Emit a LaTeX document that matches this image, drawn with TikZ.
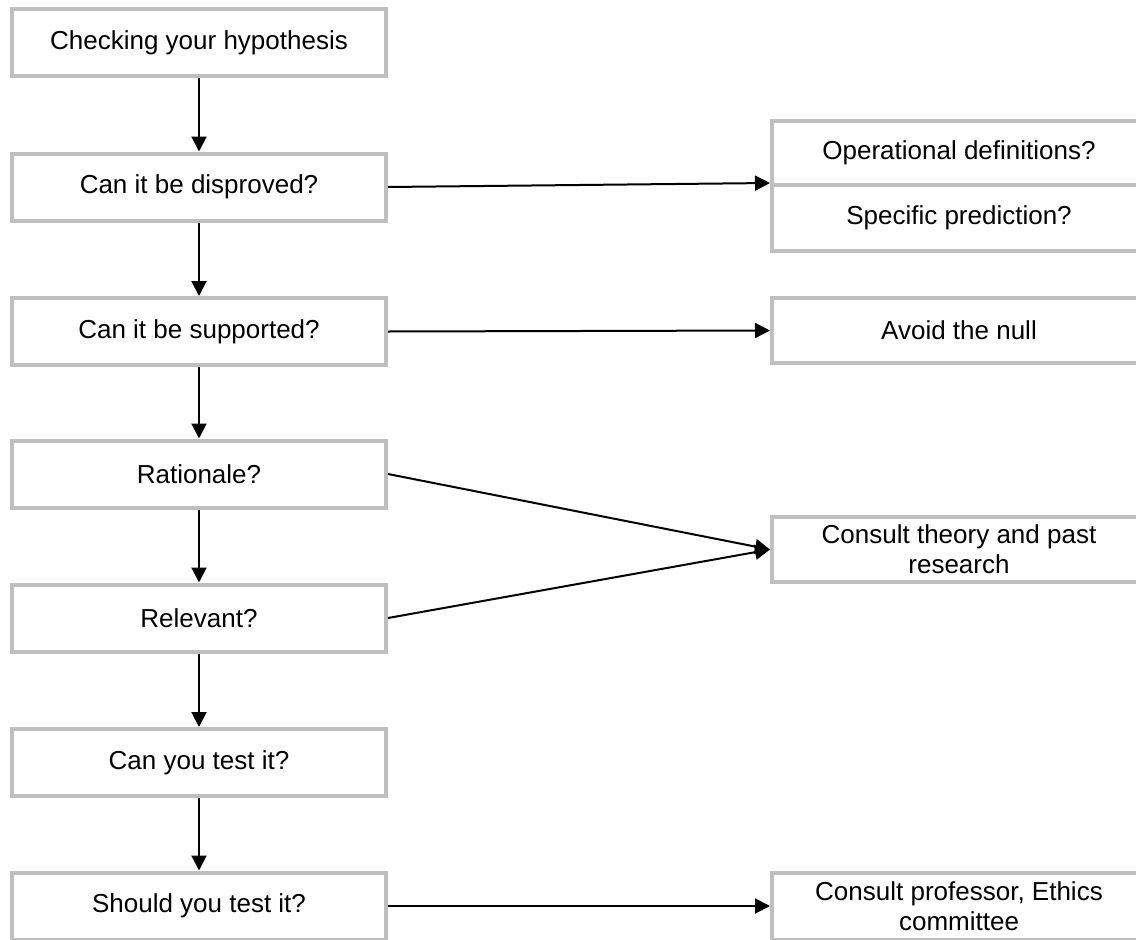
\documentclass[tikz,border=0pt]{standalone}
\usepackage{fontspec}
\setmainfont{Liberation Sans}
\usepackage{xcolor}
\usetikzlibrary{arrows.meta}
\definecolor{boxgrey}{RGB}{191, 191, 191}

\begin{document}
\begin{tikzpicture}[x=1pt, y=-1pt,
        box/.style={draw=boxgrey, line width=4pt, fill=white, rectangle,
            minimum width=374pt, minimum height=67pt, inner sep=0pt,
            align=center, font=\fontsize{26}{30}\selectfont},
        arr/.style={draw=black, line width=2pt,
            -{Triangle[length=15pt, width=15pt]}}]
        \clip (0,0) rectangle (1136,940);
        \useasboundingbox (0,0) rectangle (1136,940);
        % left column
        \node[box] (check) at (199,42.5) {Checking your hypothesis};
        \node[box] (disproved) at (199,187) {Can it be disproved?};
        \node[box] (supported) at (199,331.5) {Can it be supported?};
        \node[box] (rationale) at (199,474) {Rationale?};
        \node[box] (relevant) at (199,618) {Relevant?};
        \node[box] (testable) at (199,762.5) {Can you test it?};
        \node[box] (should) at (199,906) {Should you test it?};
        % right column
        \node[box, minimum height=64pt] (operational) at (959,153) {Operational definitions?};
        \node[box, minimum height=66pt] (specific) at (959,218) {Specific prediction?};
        \node[box, minimum height=65pt] (null) at (959,330.5) {Avoid the null};
        \node[box, minimum height=65pt] (theory) at (959,549.5) {Consult theory and past\\research};
        \node[box, minimum height=67pt] (ethics) at (959,906) {Consult professor, Ethics\\committee};
        % downward arrows
        \draw[arr] (check) -- (disproved);
        \draw[arr] (disproved) -- (supported);
        \draw[arr] (supported) -- (rationale);
        \draw[arr] (rationale) -- (relevant);
        \draw[arr] (relevant) -- (testable);
        \draw[arr] (testable) -- (should);
        % arrows to the right
        \draw[arr] (disproved.east) -- (specific.north west);
        \draw[arr] (supported.east) -- (null.west);
        \draw[arr] (rationale.east) -- (theory.west);
        \draw[arr] (relevant.east) -- (theory.west);
        \draw[arr] (should.east) -- (ethics.west);
    \end{tikzpicture}
\end{document}
